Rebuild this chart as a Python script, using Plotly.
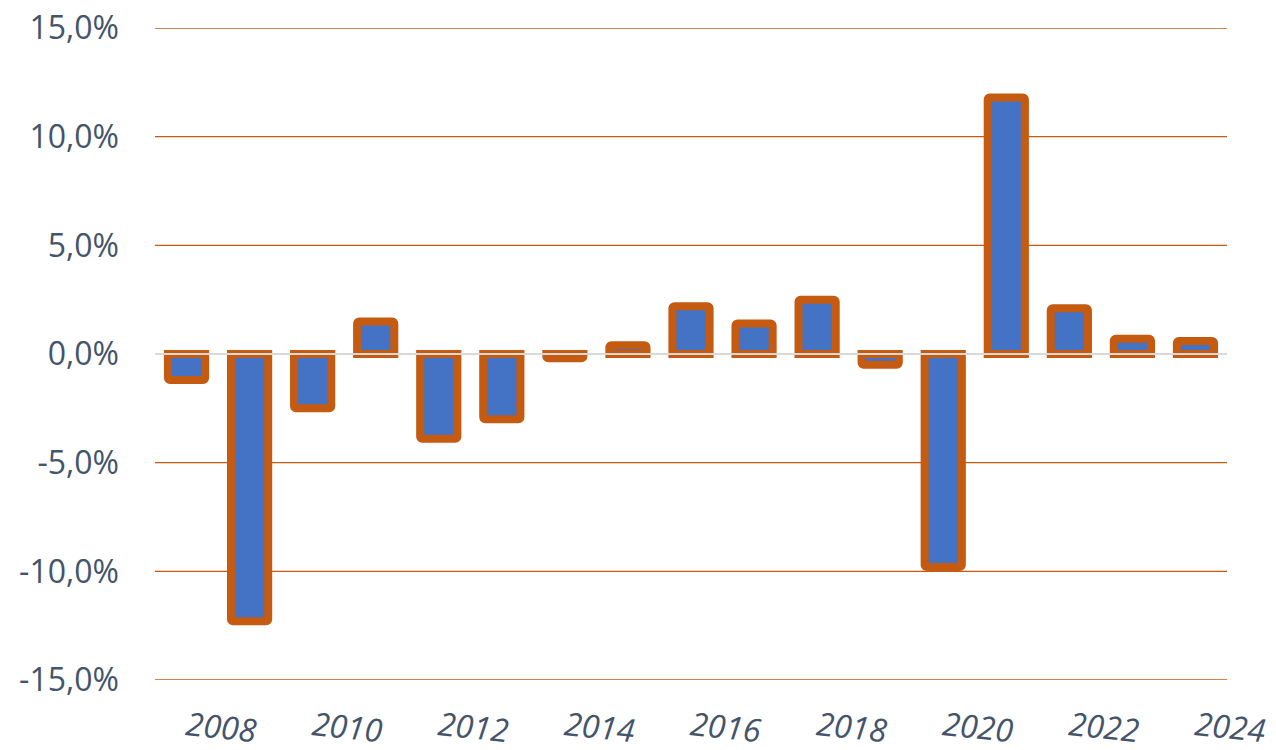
import plotly.graph_objects as go

years = [str(y) for y in range(2008, 2025)]
values = [-1.2, -12.3, -2.5, 1.5, -3.9, -3.0, -0.2, 0.4, 2.2, 1.4, 2.5, -0.5, -9.8, 11.8, 2.1, 0.7, 0.6]
x_tick_labels = ["2008", "2010", "2012", "2014", "2016", "2018", "2020", "2022", "2024"]
y_tick_vals = [-15, -10, -5, 0, 5, 10, 15]
y_tick_text = ["-15,0%", "-10,0%", "-5,0%", "0,0%", "5,0%", "10,0%", "15,0%"]

FILL = "#4472C4"
EDGE = "#C55A11"
TEXT = "#44546A"

fig = go.Figure()
fig.add_trace(go.Bar(
    x=years, y=values,
    marker=dict(color=FILL, line=dict(color=EDGE, width=8), cornerradius=2),
    hoverinfo="x+y",
))

# horizontal gridlines (orange) below the bars
for v in y_tick_vals:
    if v == 0:
        continue
    fig.add_shape(type="line", xref="paper", yref="y", x0=0, x1=1, y0=v, y1=v,
                  line=dict(color=EDGE, width=1.3), layer="below")

# zero line on top of the bars
fig.add_shape(type="line", xref="paper", yref="y", x0=0, x1=1, y0=0, y1=0,
              line=dict(color="#D9D9D9", width=2), layer="above")

# page body has an 8px margin, so the figure is offset by (8, 8)
fig.update_layout(
    width=1268, height=742,
    margin=dict(l=147, r=49, t=20, b=70),
    paper_bgcolor="white", plot_bgcolor="white",
    bargap=0.41,
    showlegend=False,
    font=dict(family="Open Sans", color=TEXT, size=32),
)
fig.update_xaxes(
    type="category",
    tickmode="array", tickvals=x_tick_labels, ticktext=x_tick_labels,
    tickangle=6,
    tickfont=dict(family="Open Sans", size=32, color=TEXT, style="italic"),
    showgrid=False, showline=False, zeroline=False, ticks="",
    ticklabelstandoff=22,
    ticklabeloverflow="allow",
    automargin=False,
)
fig.update_yaxes(
    range=[-15, 15],
    tickmode="array", tickvals=y_tick_vals, ticktext=y_tick_text,
    tickfont=dict(family="Open Sans", size=32, color=TEXT),
    showgrid=False,
    zeroline=False, showline=False, ticks="",
    ticklabelstandoff=35,
    ticklabeloverflow="allow",
    automargin=False,
)

fig.write_html("out.html")
